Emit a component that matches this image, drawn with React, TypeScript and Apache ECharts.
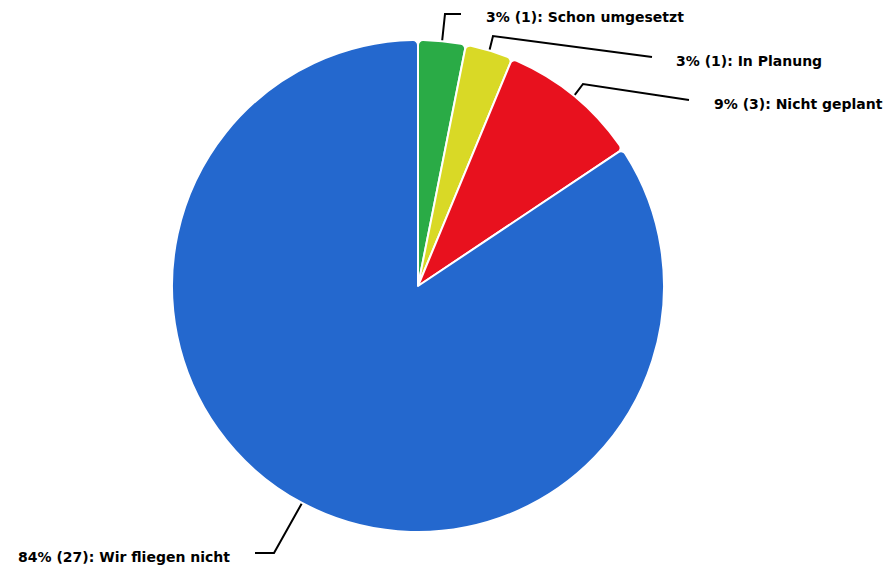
import React, { useEffect, useRef } from "react";
import * as echarts from "echarts";

const categories = ["Schon umgesetzt", "In Planung", "Nicht geplant", "Wir fliegen nicht"];
const values = [1, 1, 3, 27];
const colors = ["#2aab46", "#d9d926", "#e8111e", "#2468ce"];

// label placement: [labelX, labelY, align, elbowX, elbowY, endX, endY]
const labelLayouts: [number, number, string, number, number, number, number][] = [
  [486, 17, "left", 445, 14, 461, 14],
  [676, 61, "left", 493, 36, 652, 57],
  [714, 104, "left", 583, 84, 689, 100],
  [230, 557, "right", 274, 553, 255, 553],
];

const CX = 418;
const CY = 286;
const R = 246;

export default function App() {
  const ref = useRef<HTMLDivElement>(null);
  useEffect(() => {
    if (!ref.current) return;
    const chart = echarts.init(ref.current, null, { renderer: "svg" });
    const total = values.reduce((a, b) => a + b, 0);
    const mids: number[] = [];
    let acc = 0;
    values.forEach((v) => {
      mids.push(((acc + v / 2) / total) * Math.PI * 2);
      acc += v;
    });
    chart.setOption({
      animation: false,
      backgroundColor: "#ffffff",
      series: [
        {
          type: "pie",
          center: [CX, CY],
          radius: [0, R],
          startAngle: 90,
          clockwise: true,
          avoidLabelOverlap: false,
          emphasis: { disabled: true },
          itemStyle: { borderColor: "#ffffff", borderWidth: 2, borderRadius: 5 },
          label: {
            show: true,
            fontFamily: "DejaVu Sans",
            fontWeight: "bold",
            fontSize: 14,
            color: "#000",
            formatter: (p: any) => `${Math.round(p.percent)}% (${p.value}): ${p.name}`,
          },
          labelLine: { show: true, lineStyle: { color: "#000", width: 2 } },
          labelLayout: (p: any) => {
            const i = p.dataIndex;
            const l = labelLayouts[i];
            const a = mids[i];
            const sx = CX + R * Math.sin(a);
            const sy = CY - R * Math.cos(a);
            return {
              x: l[0],
              y: l[1],
              align: l[2],
              verticalAlign: "middle",
              labelLinePoints: [
                [sx, sy],
                [l[3], l[4]],
                [l[5], l[6]],
              ],
            };
          },
          data: categories.map((c, i) => ({
            name: c,
            value: values[i],
            itemStyle: { color: colors[i] },
          })),
        },
      ],
    });
    return () => chart.dispose();
  }, []);
  return (
    <div
      ref={ref}
      style={{ position: "fixed", left: 0, top: 0, width: 890, height: 569 }}
    />
  );
}
